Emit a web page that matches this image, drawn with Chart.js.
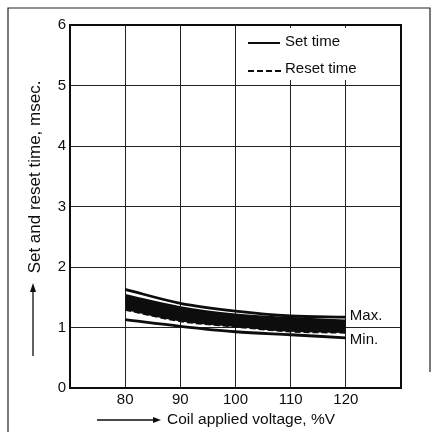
<!DOCTYPE html>
<html>
<head>
<meta charset="utf-8">
<script src="https://cdn.jsdelivr.net/npm/chart.js@4/dist/chart.umd.min.js"></script>
<style>
  html, body { margin: 0; padding: 0; background: #fff; }
  canvas { display: block; }
</style>
</head>
<body>
<canvas id="chart" width="433" height="432"></canvas>
<script>
  // values (coil voltage in %V, times in msec)
  const voltage = [80, 90, 100, 110, 120];
  const maxTime = [1.63, 1.40, 1.27, 1.19, 1.17];
  const setTime = [1.54, 1.34, 1.22, 1.16, 1.12];
  const resetTime = [1.29, 1.10, 1.01, 0.93, 0.91];
  const minTime = [1.13, 1.02, 0.93, 0.88, 0.83];
  const xLabels = [80, 90, 100, 110, 120];

  const FONT = "'Liberation Sans', Arial, Helvetica, sans-serif";
  const INK = "#0d0d0d";

  function pts(arr) {
    return voltage.map(function(v, i) { return { x: v, y: arr[i] }; });
  }

  const decor = {
    id: "decor",
    afterDraw: function(chart) {
      const ctx = chart.ctx;
      const xs = chart.scales.x;
      ctx.save();

      // outer frame
      ctx.strokeStyle = "#222";
      ctx.lineWidth = 1.2;
      ctx.beginPath();
      ctx.moveTo(8, 432); ctx.lineTo(8, 8); ctx.lineTo(430, 8); ctx.lineTo(430, 372);
      ctx.stroke();

      // legend box inside the plot
      ctx.fillStyle = "#fff";
      ctx.fillRect(243, 28, 155, 52);
      ctx.strokeStyle = INK;
      ctx.lineWidth = 2;
      ctx.beginPath();
      ctx.moveTo(248, 43); ctx.lineTo(280, 43);
      ctx.stroke();
      ctx.setLineDash([6, 3]);
      ctx.beginPath();
      ctx.moveTo(248, 71); ctx.lineTo(283, 71);
      ctx.stroke();
      ctx.setLineDash([]);
      ctx.fillStyle = INK;
      ctx.font = "15px " + FONT;
      ctx.textAlign = "left";
      ctx.textBaseline = "middle";
      ctx.fillText("Set time", 285, 42);
      ctx.fillText("Reset time", 285, 69);

      // Max. / Min. labels at the right end of the curves
      const xEnd = xs.getPixelForValue(voltage[voltage.length - 1]) + 3;
      ctx.fillStyle = "#fff";
      ctx.fillRect(xEnd, 307, 38, 16);
      ctx.fillRect(xEnd, 332, 34, 16);
      ctx.fillStyle = INK;
      ctx.fillText("Max.", xEnd + 1, 316);
      ctx.fillText("Min.", xEnd + 1, 340);

      // x axis title with arrow
      ctx.font = "15.5px " + FONT;
      ctx.fillText("Coil applied voltage, %V", 167, 420);
      ctx.lineWidth = 1.3;
      ctx.beginPath();
      ctx.moveTo(97, 420); ctx.lineTo(155, 420);
      ctx.stroke();
      ctx.beginPath();
      ctx.moveTo(161, 420); ctx.lineTo(153, 417); ctx.lineTo(153, 423); ctx.closePath();
      ctx.fill();

      // y axis title with arrow
      ctx.save();
      ctx.font = "17px " + FONT;
      ctx.translate(35, 177);
      ctx.rotate(-Math.PI / 2);
      ctx.textAlign = "center";
      ctx.fillText("Set and reset time, msec.", 0, 0);
      ctx.restore();
      ctx.beginPath();
      ctx.moveTo(33, 356); ctx.lineTo(33, 290);
      ctx.stroke();
      ctx.beginPath();
      ctx.moveTo(33, 283); ctx.lineTo(30, 292); ctx.lineTo(36, 292); ctx.closePath();
      ctx.fill();

      ctx.restore();
    }
  };

  new Chart(document.getElementById("chart"), {
    type: "line",
    data: {
      datasets: [
        {
          label: "Max.",
          data: pts(maxTime),
          borderColor: INK, borderWidth: 2.8,
          pointRadius: 0, fill: false,
          cubicInterpolationMode: "monotone"
        },
        {
          label: "Set time",
          data: pts(setTime),
          borderColor: INK, borderWidth: 1.5,
          backgroundColor: INK,
          pointRadius: 0, fill: "+1",
          cubicInterpolationMode: "monotone"
        },
        {
          label: "Reset time",
          data: pts(resetTime),
          borderColor: INK, borderWidth: 1.5, borderDash: [6, 3],
          pointRadius: 0, fill: false,
          cubicInterpolationMode: "monotone"
        },
        {
          label: "Min.",
          data: pts(minTime),
          borderColor: INK, borderWidth: 2.8,
          pointRadius: 0, fill: false,
          cubicInterpolationMode: "monotone"
        }
      ]
    },
    options: {
      responsive: false,
      animation: false,
      devicePixelRatio: 1,
      layout: { padding: { top: 25, right: 32, left: 0, bottom: 0 } },
      plugins: {
        legend: { display: false },
        tooltip: { enabled: false }
      },
      scales: {
        x: {
          type: "linear", min: 70, max: 130,
          afterFit: function(scale) { scale.height = 44; },
          border: { display: true, color: INK, width: 2 },
          grid: { color: "#222", lineWidth: 1, drawTicks: false },
          ticks: {
            stepSize: 10, padding: 3, color: INK,
            font: { family: FONT, size: 15 },
            callback: function(v) { return xLabels.indexOf(v) >= 0 ? String(v) : ""; }
          }
        },
        y: {
          min: 0, max: 6,
          afterFit: function(scale) { scale.width = 70; },
          border: { display: true, color: INK, width: 2 },
          grid: { color: "#222", lineWidth: 1, drawTicks: false },
          ticks: {
            stepSize: 1, padding: 4, color: INK,
            font: { family: FONT, size: 15 }
          }
        }
      }
    },
    plugins: [decor, {
      id: "plotFrame",
      afterDatasetsDraw: function(chart) {
        const a = chart.chartArea, ctx = chart.ctx;
        ctx.save();
        ctx.strokeStyle = INK;
        ctx.lineWidth = 2;
        ctx.strokeRect(a.left, a.top, a.right - a.left, a.bottom - a.top);
        ctx.restore();
      }
    }]
  });
</script>
</body>
</html>
